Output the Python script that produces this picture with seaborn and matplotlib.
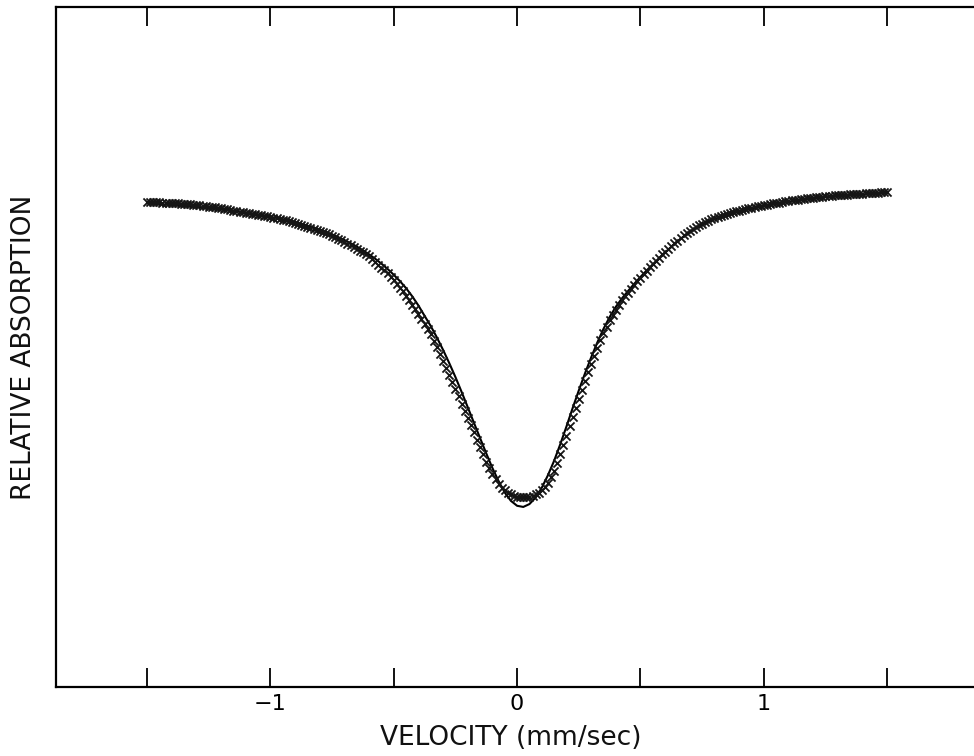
import numpy as np
import pandas as pd
import matplotlib
matplotlib.use("Agg")
import matplotlib.pyplot as plt
import seaborn as sns

# Measured absorption (arbitrary units), one value per channel, -1.5 .. +1.5 mm/sec
measured = [
    71.32, 71.30, 71.29, 71.27, 71.26, 71.24, 71.22, 71.20, 71.18, 71.15,
    71.12, 71.08, 71.04, 71.00, 70.97, 70.93, 70.88, 70.83, 70.78, 70.72,
    70.66, 70.60, 70.53, 70.47, 70.40, 70.32, 70.24, 70.16, 70.07, 69.99,
    69.91, 69.83, 69.75, 69.68, 69.60, 69.52, 69.44, 69.36, 69.28, 69.20,
    69.12, 69.03, 68.93, 68.83, 68.72, 68.61, 68.49, 68.37, 68.25, 68.13,
    68.00, 67.86, 67.72, 67.57, 67.41, 67.25, 67.09, 66.92, 66.74, 66.55,
    66.35, 66.14, 65.93, 65.70, 65.47, 65.22, 64.97, 64.72, 64.46, 64.18,
    63.90, 63.61, 63.31, 62.93, 62.53, 62.12, 61.69, 61.26, 60.81, 60.34,
    59.85, 59.31, 58.75, 58.17, 57.57, 56.92, 56.25, 55.56, 54.85, 54.13,
    53.38, 52.62, 51.84, 50.90, 49.93, 48.95, 47.94, 46.92, 45.88, 44.86,
    43.82, 42.76, 41.69, 40.63, 39.56, 38.50, 37.43, 36.36, 35.29, 34.21,
    33.16, 32.19, 31.32, 30.52, 29.85, 29.32, 28.90, 28.57, 28.31, 28.13,
    28.01,
    27.97, 27.94, 27.96, 28.01, 28.14, 28.31, 28.58, 28.90, 29.41, 30.00,
    30.84, 31.76, 32.98, 34.26, 35.58, 36.91, 38.31, 39.71, 41.03, 42.35,
    43.68, 45.00, 46.26, 47.50, 48.69, 49.85, 50.97, 52.06, 53.00, 53.90,
    54.72, 55.51, 56.19, 56.84, 57.44, 58.01, 58.57, 59.12, 59.67, 60.22,
    60.74, 61.25, 61.73, 62.21, 62.69, 63.16, 63.61, 64.04, 64.45, 64.85,
    65.26, 65.66, 66.04, 66.40, 66.74, 67.06, 67.36, 67.65, 67.91, 68.16,
    68.39, 68.60, 68.79, 68.96, 69.13, 69.28, 69.43, 69.57, 69.70, 69.83,
    69.95, 70.07, 70.18, 70.29, 70.39, 70.49, 70.59, 70.68, 70.77, 70.86,
    70.95, 71.03, 71.11, 71.18, 71.25, 71.32, 71.40, 71.47, 71.55, 71.62,
    71.69, 71.75, 71.81, 71.87, 71.93, 71.98, 72.03, 72.07, 72.12, 72.16,
    72.20, 72.24, 72.28, 72.31, 72.35, 72.38, 72.42, 72.46, 72.49, 72.51,
    72.54, 72.57, 72.60, 72.63, 72.66, 72.69, 72.72, 72.74, 72.77, 72.79,
]

# Fitted line shape, every 0.025 mm/sec from -1.5 to +1.5
fitted = [
    71.13, 71.08, 71.02, 70.96, 70.90, 70.83, 70.76, 70.69, 70.61, 70.53,
    70.44, 70.34, 70.24, 70.13, 70.02, 69.90, 69.77, 69.63, 69.48, 69.32,
    69.15, 68.97, 68.77, 68.56, 68.33, 68.09, 67.82, 67.54, 67.23, 66.90,
    66.54, 66.15, 65.73, 65.27, 64.77, 64.22, 63.63, 62.97, 62.26, 61.48,
    60.62, 59.69, 58.65, 57.45, 56.10, 54.58, 53.08, 51.39, 49.57, 47.63,
    45.58, 43.40, 41.14, 38.86, 36.60, 34.35, 32.20, 30.27, 28.60, 27.37,
    26.65,
    26.48, 26.90, 27.86, 29.30, 31.14, 33.26, 35.70, 38.30, 41.00, 43.60,
    46.10, 48.45, 50.65, 52.65, 54.40, 55.90, 57.15, 58.25, 59.30, 60.30,
    61.25, 62.15, 63.05, 63.90, 64.70, 65.51, 66.25, 66.91, 67.50, 68.01,
    68.45, 68.81, 69.13, 69.42, 69.68, 69.92, 70.14, 70.34, 70.53, 70.71,
    70.88, 71.03, 71.17, 71.32, 71.47, 71.60, 71.72, 71.83, 71.92, 72.01,
    72.09, 72.16, 72.23, 72.31, 72.36, 72.42, 72.48, 72.54, 72.59, 72.64,
]

# Evenly spaced velocity grids (mm/sec) for the two series
v_measured = np.linspace(-1.5, 1.5, len(measured))
v_fitted = np.linspace(-1.5, 1.5, len(fitted))

tick_positions = [-1.5, -1.0, -0.5, 0.0, 0.5, 1.0, 1.5]
tick_labels = ["", "\u22121", "", "0", "", "1", ""]

obs = pd.DataFrame({"velocity": v_measured, "absorption": measured})
fit = pd.DataFrame({"velocity": v_fitted, "absorption": fitted})

sns.set_theme(style="white")
plt.rcParams["font.family"] = ["DejaVu Sans"]

fig = plt.figure(figsize=(9.74, 7.56), dpi=100)
ax = fig.add_axes([56 / 974, 69 / 756, 918 / 974, 680 / 756])

sns.lineplot(data=fit, x="velocity", y="absorption", color="black",
             linewidth=1.5, sort=False, ax=ax)
sns.scatterplot(data=obs, x="velocity", y="absorption", marker="x",
                s=34, color="#151515", linewidth=1.3, ax=ax, zorder=3)

ax.set_xlim(-1.869, 1.852)
ax.set_ylim(0, 100)

ax.set_xticks(tick_positions)
ax.set_xticklabels(tick_labels)
ax.set_yticks([])
ax.tick_params(axis="x", direction="in", length=14, width=1.3,
               top=True, bottom=True, labeltop=False, labelbottom=True,
               labelsize=16, pad=5, colors="black")

for side in ("left", "top", "bottom"):
    ax.spines[side].set_visible(True)
    ax.spines[side].set_color("black")
    ax.spines[side].set_linewidth(1.6)
ax.spines["right"].set_visible(False)

ax.set_xlabel("")
ax.set_ylabel("")
fig.text(511 / 974, 1 - 738 / 756, "VELOCITY (mm/sec)", ha="center",
         va="center", fontsize=19, color="#111111")
fig.text(24 / 974, 1 - 347 / 756, "RELATIVE ABSORPTION", rotation=90,
         ha="center", va="center", fontsize=19, color="#111111")

fig.savefig("out.png", dpi=100, facecolor="white")
